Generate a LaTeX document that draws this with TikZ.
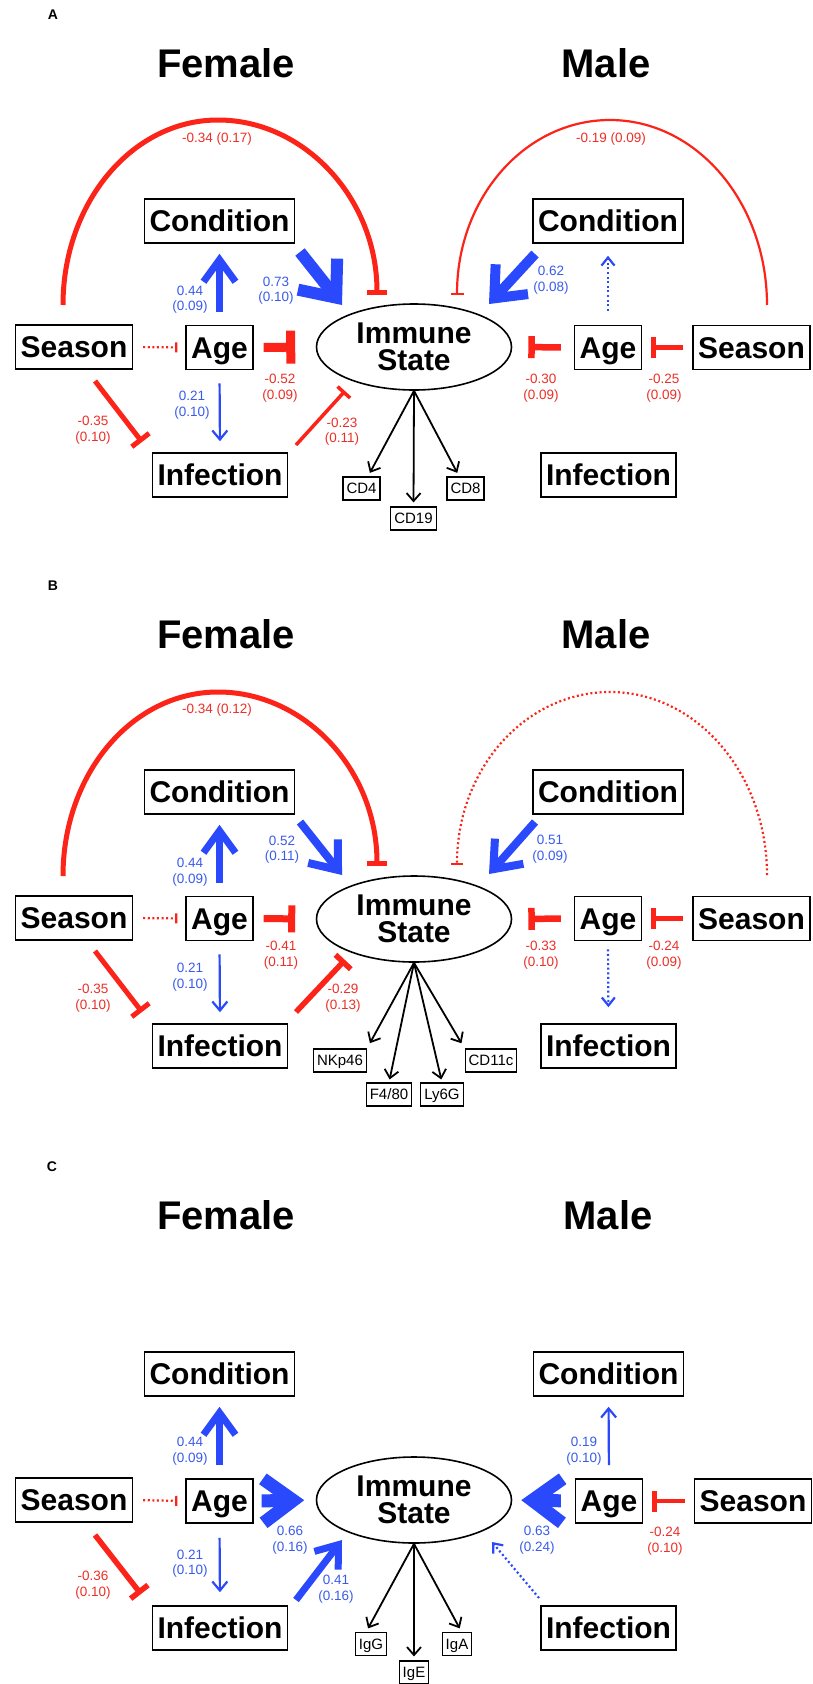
\documentclass[tikz,border=0pt]{standalone}
\usepackage{fontspec}
\setmainfont{Liberation Sans}
\usetikzlibrary{arrows.meta,shapes.geometric,calc}
\definecolor{negred}{RGB}{252,35,25}
\definecolor{posblue}{RGB}{42,72,252}
\definecolor{labred}{RGB}{236,48,40}
\definecolor{labblue}{RGB}{58,92,236}
\tikzset{
 box/.style={draw=black, line width=1.6pt, font=\bfseries\fontsize{30}{30}\selectfont, inner xsep=5pt, inner ysep=0pt, minimum height=44pt, text height=21.5pt, text depth=0pt},
 sbox/.style={draw=black, line width=1.2pt, font=\fontsize{15}{15}\selectfont, inner xsep=3.5pt, inner ysep=0pt, minimum height=23pt, text height=10.8pt, text depth=0pt},
 immnode/.style={draw=black, line width=1.6pt, ellipse, minimum width=195pt, minimum height=86pt, inner sep=0pt, align=center, font=\bfseries\fontsize{30}{27.5}\selectfont},
 ttl/.style={font=\bfseries\fontsize{40}{40}\selectfont, inner sep=0pt},
 plab/.style={font=\bfseries\fontsize{14}{14}\selectfont, inner sep=0pt},
 lab/.style={font=\fontsize{13.5}{15.5}\selectfont, align=center, inner sep=0pt},
 rl/.style={lab, text=labred},
 bl/.style={lab, text=labblue},
 ind/.style={draw=black, line width=1.8pt, -{Straight Barb[length=8pt,width=14pt]}},
 posarr/.style args={#1/#2/#3}{draw=posblue, line width=#1pt, -{Straight Barb[length=#2pt,width=#3pt]}},
 negarr/.style args={#1/#2}{draw=negred, line width=#1pt, -{Bar[width=#2pt]}},
 dotline/.style={dash pattern=on 2pt off 2.6pt}
}
\begin{document}
\begin{tikzpicture}[x=1pt,y=-1pt]
\fill[white] (0,0) rectangle (813,1684);
\useasboundingbox (0,0) rectangle (813,1684);

%% ================= PANEL A =================
\begin{scope}
\node[plab] (pA) at (53,15) {A};
\node[ttl] (fA) at (226,63) {Female};
\node[ttl] (mA) at (606,63) {Male};
\node[box] (cFA) at (219.5,221) {Condition};
\node[box] (sFA) at (74,347) {Season};
\node[box] (aFA) at (219.5,347.5) {Age};
\node[box] (iFA) at (220,475) {Infection};
\node[immnode] (imA) at (414,347) {Immune\\State};
\node[box] (cMA) at (608,221) {Condition};
\node[box] (aMA) at (608,347.5) {Age};
\node[box] (sMA) at (751.5,347.5) {Season};
\node[box] (iMA) at (608.5,475) {Infection};
\node[sbox] (cd4) at (361.5,488.5) {CD4};
\node[sbox] (cd8) at (465.5,488.5) {CD8};
\node[sbox] (cd19) at (413.5,518.5) {CD19};
\coordinate (A1s) at (63,305); \coordinate (A1e) at (377,295);
\coordinate (A2s) at (300,252); \coordinate (A2e) at (342,305);
\coordinate (A3s) at (95,381); \coordinate (A3e) at (142,442);
\coordinate (A4s) at (296,445); \coordinate (A4e) at (345,391);
\coordinate (A5s) at (767,305); \coordinate (A5e) at (457,295);
\coordinate (A6s) at (535,254); \coordinate (A6e) at (489,304);
% female
\draw[negarr=5/20] (A1s) .. controls (63,203) and (132,120) .. (218,120) .. controls (304,120) and (377,198) .. (A1e);
\draw[negarr=2.2/10, dotline, shorten <=10pt, shorten >=8pt] (sFA.east) -- (aFA.west);
\draw[posarr=7/22/32, shorten <=13pt, shorten >=10pt] (aFA.north) -- (cFA.south);
\draw[posarr=12/30/50] (A2s) -- (A2e);
\draw[negarr=9/33, shorten <=10pt, shorten >=20.5pt] (aFA.east) -- (imA.west);
\draw[posarr=2.2/9/15, shorten <=13pt, shorten >=11pt] (aFA.south) -- (iFA.north);
\draw[negarr=5/22] (A3s) -- (A3e);
\draw[negarr=3.5/17] (A4s) -- (A4e);
% male
\draw[negarr=2.2/13] (A5s) .. controls (767,203) and (697,120) .. (610,120) .. controls (525,120) and (457,198) .. (A5e);
\draw[posarr=10/26/44] (A6s) -- (A6e);
\draw[posarr=2.2/8/13, dotline, shorten <=14pt, shorten >=12pt] (aMA.north) -- (cMA.south);
\draw[negarr=6.5/22, shorten <=13pt, shorten >=16pt] (aMA.west) -- (imA.east);
\draw[negarr=4.5/21, shorten <=9pt, shorten >=9pt] (sMA.west) -- (aMA.east);
% indicators
\draw[ind, shorten >=4pt] (imA.south) -- (cd4);
\draw[ind, shorten >=4pt] (imA.south) -- (cd19.north);
\draw[ind, shorten >=4pt] (imA.south) -- (cd8);
% labels
\node[rl] (lA1) at (217,139) {-0.34 (0.17)};
\node[rl] (lA2) at (611,139) {-0.19 (0.09)};
\node[bl] (lA3) at (190,299.5) {0.44\\(0.09)};
\node[bl] (lA4) at (276,290.5) {0.73\\(0.10)};
\node[rl] (lA5) at (280,388) {-0.52\\(0.09)};
\node[bl] (lA6) at (192,405) {0.21\\(0.10)};
\node[rl] (lA7) at (93,430) {-0.35\\(0.10)};
\node[rl] (lA8) at (342,431.5) {-0.23\\(0.11)};
\node[bl] (lA9) at (551,280) {0.62\\(0.08)};
\node[rl] (lA10) at (541,388) {-0.30\\(0.09)};
\node[rl] (lA11) at (664,388) {-0.25\\(0.09)};
\end{scope}

%% ================= PANEL B =================
\begin{scope}[shift={(0,571)}]
\node[plab] (pB) at (53,15) {B};
\node[ttl] (fB) at (226,63) {Female};
\node[ttl] (mB) at (606,63) {Male};
\node[box] (cFB) at (219.5,221) {Condition};
\node[box] (sFB) at (74,347) {Season};
\node[box] (aFB) at (219.5,347.5) {Age};
\node[box] (iFB) at (220,475) {Infection};
\node[immnode] (imB) at (414,348) {Immune\\State};
\node[box] (cMB) at (608,221) {Condition};
\node[box] (aMB) at (608,347.5) {Age};
\node[box] (sMB) at (751.5,347.5) {Season};
\node[box] (iMB) at (608.5,475) {Infection};
\node[sbox] (nk) at (340,489.5) {NKp46};
\node[sbox] (f480) at (389,523.5) {F4/80};
\node[sbox] (ly6g) at (442,523.5) {Ly6G};
\node[sbox] (cd11c) at (491,489.5) {CD11c};
\coordinate (B1s) at (63,305); \coordinate (B1e) at (377,295);
\coordinate (B2s) at (300,251); \coordinate (B2e) at (342,304);
\coordinate (B3s) at (95,380); \coordinate (B3e) at (142,441);
\coordinate (B4s) at (296,441); \coordinate (B4e) at (345,389);
\coordinate (B5s) at (767,304); \coordinate (B5e) at (457,294);
\coordinate (B6s) at (535,251); \coordinate (B6e) at (489,303);
% female
\draw[negarr=5/20] (B1s) .. controls (63,203) and (132,121) .. (218,121) .. controls (304,121) and (377,198) .. (B1e);
\draw[negarr=2.2/10, dotline, shorten <=10pt, shorten >=8pt] (sFB.east) -- (aFB.west);
\draw[posarr=7/22/32, shorten <=13pt, shorten >=10pt] (aFB.north) -- (cFB.south);
\draw[posarr=8/24/38] (B2s) -- (B2e);
\draw[negarr=7/27, shorten <=10pt, shorten >=20.5pt] (aFB.east) -- (imB.west);
\draw[posarr=2.2/9/15, shorten <=13pt, shorten >=11pt] (aFB.south) -- (iFB.north);
\draw[negarr=5/22] (B3s) -- (B3e);
\draw[negarr=5.5/21] (B4s) -- (B4e);
% male
\draw[negarr=2.2/12, dotline] (B5s) .. controls (767,203) and (697,121) .. (610,121) .. controls (525,121) and (457,198) .. (B5e);
\draw[posarr=8/24/38] (B6s) -- (B6e);
\draw[posarr=2.2/8/13, dotline, shorten <=8pt, shorten >=16pt] (aMB.south) -- (iMB.north);
\draw[negarr=6.5/22, shorten <=13pt, shorten >=16pt] (aMB.west) -- (imB.east);
\draw[negarr=4.5/21, shorten <=9pt, shorten >=9pt] (sMB.west) -- (aMB.east);
% indicators
\draw[ind, shorten >=6pt] (imB.south) -- (nk.north east);
\draw[ind, shorten >=3pt] (imB.south) -- (f480.north);
\draw[ind, shorten >=3pt] (imB.south) -- (ly6g.north);
\draw[ind, shorten >=6pt] (imB.south) -- (cd11c.north west);
% labels
\node[rl] (lB1) at (217,139) {-0.34 (0.12)};
\node[bl] (lB3) at (190,301) {0.44\\(0.09)};
\node[bl] (lB4) at (282,278.5) {0.52\\(0.11)};
\node[rl] (lB5) at (281,384) {-0.41\\(0.11)};
\node[bl] (lB6) at (190,406) {0.21\\(0.10)};
\node[rl] (lB7) at (93,427) {-0.35\\(0.10)};
\node[rl] (lB8) at (343,427) {-0.29\\(0.13)};
\node[bl] (lB9) at (550,278) {0.51\\(0.09)};
\node[rl] (lB10) at (541,384) {-0.33\\(0.10)};
\node[rl] (lB11) at (664,384) {-0.24\\(0.09)};
\end{scope}

%% ================= PANEL C =================
\begin{scope}[shift={(0,1153)}]
\node[plab] (pC) at (52,14) {C};
\node[ttl] (fC) at (226,62) {Female};
\node[ttl] (mC) at (608,62) {Male};
\node[box] (cFC) at (219.5,221) {Condition};
\node[box] (sFC) at (74,347) {Season};
\node[box] (aFC) at (219.5,348) {Age};
\node[box] (iFC) at (220,475) {Infection};
\node[immnode] (imC) at (414,347) {Immune\\State};
\node[box] (cMC) at (608.5,221) {Condition};
\node[box] (aMC) at (609,348) {Age};
\node[box] (sMC) at (753,348) {Season};
\node[box] (iMC) at (608.5,475) {Infection};
\node[sbox] (igg) at (371,491) {IgG};
\node[sbox] (iga) at (457,491) {IgA};
\node[sbox] (ige) at (414,519.5) {IgE};
\coordinate (C3s) at (95,382); \coordinate (C3e) at (141,441);
\coordinate (C4s) at (296,447); \coordinate (C4e) at (342,387);
\coordinate (C6s) at (539,445); \coordinate (C6e) at (492,389);
% female
\draw[negarr=2.2/10, dotline, shorten <=10pt, shorten >=8pt] (sFC.east) -- (aFC.west);
\draw[posarr=7/22/32, shorten <=13pt, shorten >=10pt] (aFC.north) -- (cFC.south);
\draw[posarr=13/30/44, shorten <=8pt, shorten >=11.5pt] (aFC.east) -- (imC.west);
\draw[posarr=2.2/9/15, shorten <=14pt, shorten >=13pt] (aFC.south) -- (iFC.north);
\draw[negarr=5.5/22] (C3s) -- (C3e);
\draw[posarr=7/20/30] (C4s) -- (C4e);
% male
\draw[posarr=2.2/9/15, shorten <=13pt, shorten >=10pt] (aMC.north) -- (cMC.south);
\draw[posarr=13/30/44, shorten <=14pt, shorten >=9pt] (aMC.west) -- (imC.east);
\draw[negarr=4.5/21, shorten <=9pt, shorten >=9pt] (sMC.west) -- (aMC.east);
\draw[posarr=2.2/8/13, dotline] (C6s) -- (C6e);
% indicators
\draw[ind, shorten >=4pt] (imC.south) -- ($(igg.north)!0.3!(igg.north west)$);
\draw[ind, shorten >=4pt] (imC.south) -- (ige.north);
\draw[ind, shorten >=4pt] (imC.south) -- ($(iga.north)!0.3!(iga.north east)$);
% labels
\node[bl] (lC3) at (190,298) {0.44\\(0.09)};
\node[bl] (lC4) at (290,387) {0.66\\(0.16)};
\node[bl] (lC5) at (336,436) {0.41\\(0.16)};
\node[bl] (lC6) at (190,410.5) {0.21\\(0.10)};
\node[rl] (lC7) at (93,432) {-0.36\\(0.10)};
\node[bl] (lC9) at (584,298) {0.19\\(0.10)};
\node[bl] (lC10) at (537,387) {0.63\\(0.24)};
\node[rl] (lC11) at (665,388) {-0.24\\(0.10)};
\end{scope}
\end{tikzpicture}
\end{document}
